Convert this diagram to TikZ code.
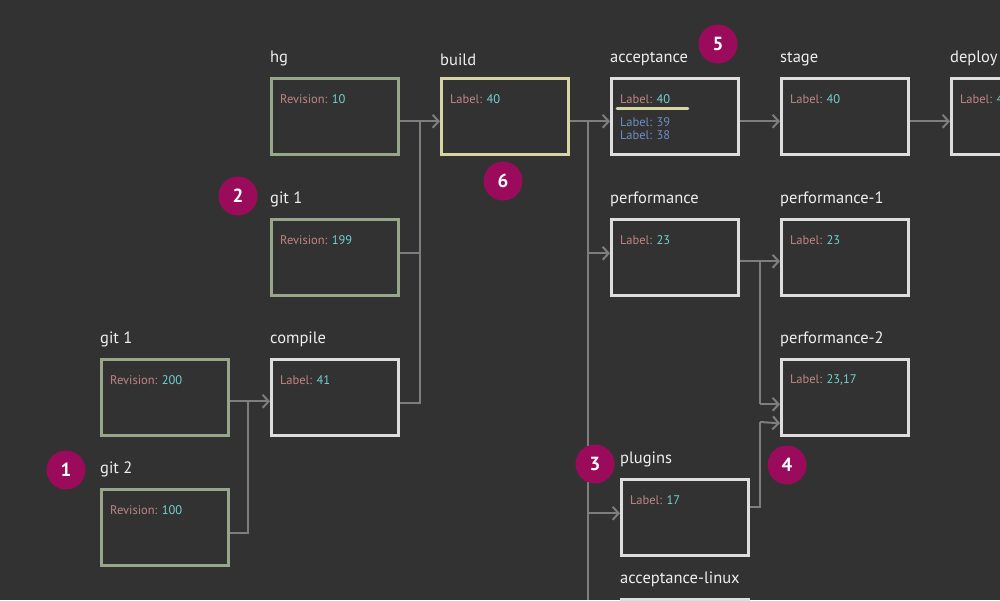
\documentclass[tikz,border=0pt]{standalone}
\usepackage{fontspec}
\setmainfont{PT Sans}
\usetikzlibrary{arrows.meta,calc}
\definecolor{bg}{HTML}{323232}
\definecolor{greenb}{HTML}{98A68A}
\definecolor{yellowb}{HTML}{D8D5A4}
\definecolor{whiteb}{HTML}{DEDEDE}
\definecolor{linec}{HTML}{7E7E7E}
\definecolor{labc}{HTML}{C08584}
\definecolor{valc}{HTML}{72D0D0}
\definecolor{oldc}{HTML}{6B8FC4}
\definecolor{badgec}{HTML}{9A0B5B}
\definecolor{titlec}{HTML}{EEEEEE}
\newcommand{\lb}[1]{\textcolor{labc}{#1}}
\newcommand{\vl}[1]{\textcolor{valc}{#1}}
\tikzset{
  box/.style={draw=#1, line width=2.6pt, rectangle, anchor=north west, minimum width=127pt, minimum height=76pt, inner sep=0pt},
  ttl/.style={anchor=south west, inner sep=0pt, text=titlec, font=\fontsize{16.5}{18}\selectfont},
  txt/.style={anchor=west, inner sep=0pt, font=\fontsize{12.5}{14}\selectfont},
  badge/.style={circle, fill=badgec, minimum size=39pt, inner sep=0pt, text=white, font=\fontsize{19}{20}\selectfont\bfseries},
  wire/.style={draw=linec, line width=2pt},
  conn/.style={wire, -{Straight Barb[length=6pt,width=13pt,line width=2pt]}}
}
\begin{document}
\begin{tikzpicture}[x=1pt,y=-1pt]
\clip (0,0) rectangle (1000,600);
\fill[bg] (0,0) rectangle (1000,600);

% boxes
\node[box=greenb] (hg) at (270,77) {};
\node[box=yellowb] (build) at (440,77) {};
\node[box=whiteb] (acc) at (610,77) {};
\node[box=whiteb] (stage) at (780,77) {};
\node[box=whiteb] (deploy) at (950,77) {};
\node[box=greenb] (gitA) at (270,218) {};
\node[box=whiteb] (compile) at (270,358) {};
\node[box=greenb] (gitB) at (100,358) {};
\node[box=greenb] (gitC) at (100,488) {};
\node[box=whiteb] (perf) at (610,218) {};
\node[box=whiteb] (perfA) at (780,218) {};
\node[box=whiteb] (perfB) at (780,358) {};
\node[box=whiteb] (plug) at (620,478) {};
\node[box=whiteb] (alin) at (620,598) {};

% titles
\node[ttl] (hgT) at (270,66) {hg};
\node[ttl] (buildT) at (440,66) {build};
\node[ttl] (accT) at (610,66) {acceptance};
\node[ttl] (stageT) at (780,66) {stage};
\node[ttl] (deployT) at (950,66) {deploy};
\node[ttl] (gitAT) at (270,207) {git 1};
\node[ttl] (compileT) at (270,347) {compile};
\node[ttl] (gitBT) at (100,347) {git 1};
\node[ttl] (gitCT) at (100,477) {git 2};
\node[ttl] (perfT) at (610,207) {performance};
\node[ttl] (perfAT) at (780,207) {performance-1};
\node[ttl] (perfBT) at (780,347) {performance-2};
\node[ttl] (plugT) at (620,467) {plugins};
\node[ttl] (alinT) at (620,587) {acceptance-linux};

% contents
\node[txt] (hgX) at (280,99) {\lb{Revision:} \vl{10}};
\node[txt] (buildX) at (450,99) {\lb{Label:} \vl{40}};
\node[txt] (accX) at (620,99) {\lb{Label:} \vl{40}};
\node[txt, text=oldc] (accY) at (620,122) {Label: 39};
\node[txt, text=oldc] (accZ) at (620,135) {Label: 38};
\node[txt] (stageX) at (790,99) {\lb{Label:} \vl{40}};
\node[txt] (deployX) at (960,99) {\lb{Label:} \vl{40}};
\node[txt] (gitAX) at (280,240) {\lb{Revision:} \vl{199}};
\node[txt] (compileX) at (280,380) {\lb{Label:} \vl{41}};
\node[txt] (gitBX) at (110,380) {\lb{Revision:} \vl{200}};
\node[txt] (gitCX) at (110,510) {\lb{Revision:} \vl{100}};
\node[txt] (perfX) at (620,240) {\lb{Label:} \vl{23}};
\node[txt] (perfAX) at (790,240) {\lb{Label:} \vl{23}};
\node[txt] (perfBX) at (790,380) {\lb{Label:} \vl{23,17}};
\node[txt] (plugX) at (630,500) {\lb{Label:} \vl{17}};
\draw[yellowb, line width=2.6pt, line cap=round] (617,108.5) -- (688,108.5);

% bus coordinates
\coordinate (busA) at (420,120);
\coordinate (busB) at (248,400);
\coordinate (busC) at (588,120);
\coordinate (busCend) at (588,600);
\coordinate (busD) at (760,260);
\coordinate (busE) at (760,422);

% left group
\draw[conn] ($(gitB.east)+(0,4)$) -- ($(compile.west)+(0,4)$);
\draw[wire] ($(gitC.east)+(0,6)$) -| (busB);
\draw[conn] ($(hg.east)+(0,5)$) -- ($(build.west)+(0,5)$);
\draw[wire] ($(gitA.east)+(0,-4)$) -- ($(gitA.east)+(21,-4)$);
\draw[wire] ($(compile.east)+(0,6)$) -| (busA);

% build fan-out
\draw[conn] ($(build.east)+(0,5)$) -- ($(acc.west)+(0,5)$);
\draw[wire] (busC) -- (busCend);
\draw[conn] ($(perf.west)+(-22,-4)$) -- ($(perf.west)+(0,-4)$);
\draw[conn] ($(plug.west)+(-32,-4)$) -- ($(plug.west)+(0,-4)$);
\draw[conn] ($(alin.west)+(-32,0)$) -- (alin.west);

% top chain
\draw[conn] ($(acc.east)+(0,5)$) -- ($(stage.west)+(0,5)$);
\draw[conn] ($(stage.east)+(0,5)$) -- ($(deploy.west)+(0,5)$);

% performance group
\draw[conn] ($(perf.east)+(0,4)$) -- ($(perfA.west)+(0,4)$);
\draw[wire] (busD) -- ($(perfB.west)+(-20,7)$);
\draw[conn] ($(perfB.west)+(-20,7)$) -- ($(perfB.west)+(0,7)$);
\draw[wire] ($(plug.east)+(0,-10)$) -| (busE);
\draw[conn] (busE) -- ($(perfB.west)+(0,26)$);

% badges
\node[badge] (n1) at (66,470) {1};
\node[badge] (n2) at (238,196) {2};
\node[badge] (n3) at (595,464) {3};
\node[badge] (n4) at (787,465) {4};
\node[badge] (n5) at (718,44) {5};
\node[badge] (n6) at (503,181) {6};
\end{tikzpicture}
\end{document}
